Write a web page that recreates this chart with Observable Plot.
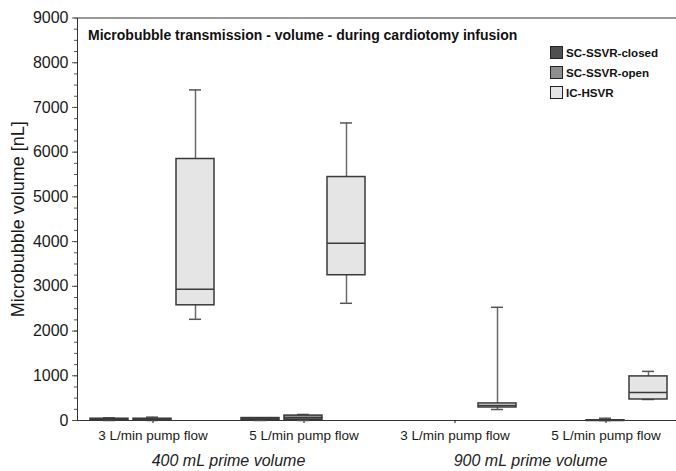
<!DOCTYPE html>
<html><head><meta charset="utf-8">
<script src="https://cdn.jsdelivr.net/npm/d3@7"></script>
<script src="https://cdn.jsdelivr.net/npm/@observablehq/plot@0.6"></script>
<style>
body{margin:0;background:#fff;font-family:"Liberation Sans",Arial,sans-serif;}
#wrap{position:relative;width:676px;height:471px;overflow:hidden;}
#title{position:absolute;left:88px;top:27px;font-weight:bold;font-size:14px;color:#111;white-space:nowrap;}
#legend{position:absolute;left:550px;top:42px;font-weight:bold;font-size:11.6px;color:#111;}
.row{display:flex;align-items:center;height:20px;}
.sw{width:11px;height:11px;border:1.5px solid #222;margin-right:3px;}
</style></head><body>
<div id="wrap"><div id="title">Microbubble transmission - volume - during cardiotomy infusion</div><div id="legend"></div></div>
<script>
const volumes = ["400 mL prime volume", "900 mL prime volume"];
const flows = ["3 L/min pump flow", "5 L/min pump flow"];
const series = ["SC-SSVR-closed", "SC-SSVR-open", "IC-HSVR"];
const seriesColors = ["#4f4f4f", "#8e8e8e", "#e5e5e5"];
// groups in order: 400/3, 400/5, 900/3, 900/5 ; each with 3 series (null = nothing visible)
const groupVolume = [0, 0, 1, 1];
const groupFlow = [0, 1, 0, 1];
const whiskerLow  = [0, 0, 2263,   0, 0, 2621,    null, null, 246,   null, 0, 470];
const quart1      = [5, 5, 2576,  10, 15, 3248,   null, null, 291,   null, 0, 470];
const medians     = [20, 15, 2935, 30, 60, 3965,  null, null, 336,   null, 0, 627];
const quart3      = [40, 40, 5847, 55, 110, 5444, null, null, 381,   null, 5, 986];
const whiskerHigh = [60, 75, 7392, 60, 135, 6653, null, null, 2531,  null, 50, 1098];
const yTicks = [0, 1000, 2000, 3000, 4000, 5000, 6000, 7000, 8000, 9000];
const yMinorStep = 250;

const groupKeys = groupVolume.map((v, i) => volumes[v] + "|" + flows[groupFlow[i]]);
const rows = [];
groupKeys.forEach((g, gi) => series.forEach((s, si) => {
  const k = gi * 3 + si;
  if (medians[k] == null) return;
  rows.push({group: g, series: s, low: whiskerLow[k], q1: quart1[k], med: medians[k], q3: quart3[k], high: whiskerHigh[k]});
}));
const volumeLabels = volumes.map((v, i) => ({label: v, group: groupKeys[groupVolume.indexOf(i)]}));

const chart = Plot.plot({
  width: 676, height: 471,
  marginLeft: 77, marginRight: -5, marginTop: 17.5, marginBottom: 51,
  style: {fontFamily: "'Liberation Sans', Arial, sans-serif", color: "#1a1a1a", background: "transparent"},
  fx: {domain: groupKeys, padding: 0, paddingOuter: 0, label: null},
  x: {domain: series, paddingInner: 0.115, paddingOuter: 0.29, axis: null},
  y: {domain: [0, 9000], label: null},
  color: {domain: series, range: seriesColors},
  marks: [
    Plot.frame({facet: "super", stroke: "#333", strokeWidth: 1}),
    Plot.axisY({ticks: d3.range(0, 9001, yMinorStep), tickSize: 3, text: null, stroke: "#555", label: null}),
    Plot.axisY({ticks: yTicks, tickFormat: d3.format("d"), tickSize: 5, tickPadding: 4, fontSize: 16, stroke: "#555", label: null}),
    Plot.axisY({ticks: [], label: "Microbubble volume [nL]", labelAnchor: "center", labelArrow: "none", labelOffset: 66, fontSize: 18}),
    Plot.axisFx({anchor: "bottom", tickFormat: k => k.split("|")[1], tickSize: 3, tickPadding: 7, fontSize: 13.5, label: null}),
    Plot.text(volumeLabels, {fx: "group", text: "label", frameAnchor: "bottom-right", textAnchor: "middle", lineAnchor: "middle", dy: 40, fontSize: 16, fontStyle: "italic", fill: "#222"}),
    Plot.ruleX(rows, {fx: "group", x: "series", y1: "q3", y2: "high", stroke: "#6a6a6a", strokeWidth: 1.5}),
    Plot.ruleX(rows, {fx: "group", x: "series", y1: "low", y2: "q1", stroke: "#6a6a6a", strokeWidth: 1.5}),
    Plot.tickY(rows, {fx: "group", x: "series", y: "high", insetLeft: 13, insetRight: 13, stroke: "#555", strokeWidth: 1.5}),
    Plot.tickY(rows, {fx: "group", x: "series", y: "low", insetLeft: 13, insetRight: 13, stroke: "#555", strokeWidth: 1.5}),
    Plot.barY(rows, {fx: "group", x: "series", y1: "q1", y2: "q3", fill: "series", stroke: "#3a3a3a", strokeWidth: 1.5}),
    Plot.tickY(rows, {fx: "group", x: "series", y: "med", stroke: "#3a3a3a", strokeWidth: 1.5})
  ]
});
const wrap = document.getElementById("wrap");
wrap.insertBefore(chart, wrap.firstChild);
const legend = document.getElementById("legend");
series.forEach((s, i) => {
  const r = document.createElement("div"); r.className = "row";
  const sw = document.createElement("div"); sw.className = "sw"; sw.style.background = seriesColors[i];
  const t = document.createElement("span"); t.textContent = s;
  r.appendChild(sw); r.appendChild(t); legend.appendChild(r);
});
</script></body></html>
